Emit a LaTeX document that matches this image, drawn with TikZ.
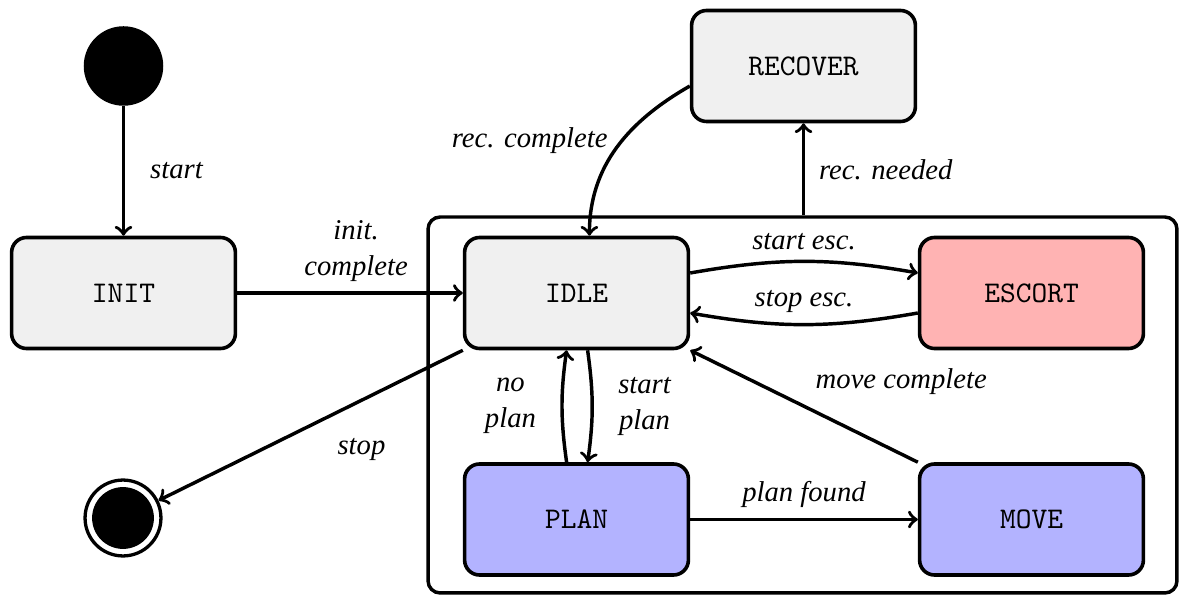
\documentclass[tikz,border=0pt]{standalone}
\usepackage{fontspec}
\setmainfont{Liberation Serif}
\usetikzlibrary{calc}
\definecolor{statefill}{HTML}{F0F0F0}
\definecolor{escortfill}{HTML}{FFB3B3}
\definecolor{planfill}{HTML}{B3B3FF}
\begin{document}
\begin{tikzpicture}[x=0.3333pt, y=-0.3333pt,
  statebox/.style={draw, line width=1.2pt, rounded corners=5pt,
    minimum width=74.6pt, minimum height=37pt, inner sep=0pt, font=\ttfamily},
  trans/.style={->, line width=1.15pt},
  lbl/.style={font=\fontsize{9.55}{12}\selectfont\itshape, align=center},
]
\useasboundingbox (0,0) rectangle (1180,596);

% composite state holding the operational states
\node (busy) [draw, line width=1.15pt, rounded corners=4pt,
  minimum width=249.6pt, minimum height=125.3pt, inner sep=0pt] at (802.5,405) {};

% pseudo states
\node (initial) [circle, fill, minimum size=26.5pt, inner sep=0pt] at (123.5,66) {};
\node (final) [circle, draw, line width=1.1pt, minimum size=25.3pt, inner sep=0pt,
  path picture={\fill (path picture bounding box.center) circle (10.3pt);}] at (123,518) {};

% states
\node (init)    [statebox, fill=statefill]  at (123.5,293)  {INIT};
\node (idle)    [statebox, fill=statefill]  at (576.5,293)  {IDLE};
\node (escort)  [statebox, fill=escortfill] at (1031.5,293) {ESCORT};
\node (plan)    [statebox, fill=planfill]   at (576.5,519.5)  {PLAN};
\node (move)    [statebox, fill=planfill]   at (1031.5,519.5) {MOVE};
\node (recover) [statebox, fill=statefill]  at (803.5,66)   {RECOVER};

% transitions
\draw[trans] (initial) -- node[lbl, right=5pt] {start} (init);
\draw[trans] (init) -- node[lbl, above, xshift=2pt] {init.\\complete} (idle);
\draw[trans] (idle) to[bend left=10] node[lbl, above] {start esc.} (escort);
\draw[trans] (escort) to[bend left=10] node[lbl, above] {stop esc.} (idle);
\draw[trans] ([xshift=3.7pt]idle.south) to[bend left=8]
  node[lbl, right=4.8pt] {start\\plan} ([xshift=3.7pt]plan.north);
\draw[trans] ([xshift=-3.3pt]plan.north) to[bend left=8]
  node[lbl, left=4.8pt] {no\\plan} ([xshift=-3.3pt]idle.south);
\draw[trans] (plan) -- node[lbl, above] {plan found} (move);
\draw[trans] (move.north west) -- node[lbl, above right] {move complete} (idle.south east);
\draw[trans] (recover |- busy.north) -- node[lbl, right=1.3pt] {rec. needed} (recover);
\draw[trans] (recover.190) .. controls +(-61,35) and +(0,-70) ..
  node[lbl, pos=0.45, left, xshift=-1pt] {rec. complete} ([xshift=4.3pt]idle.north);
\draw[trans] (idle.south west) -- node[lbl, pos=0.45, below right, yshift=-3pt] {stop} (final);
\end{tikzpicture}
\end{document}
